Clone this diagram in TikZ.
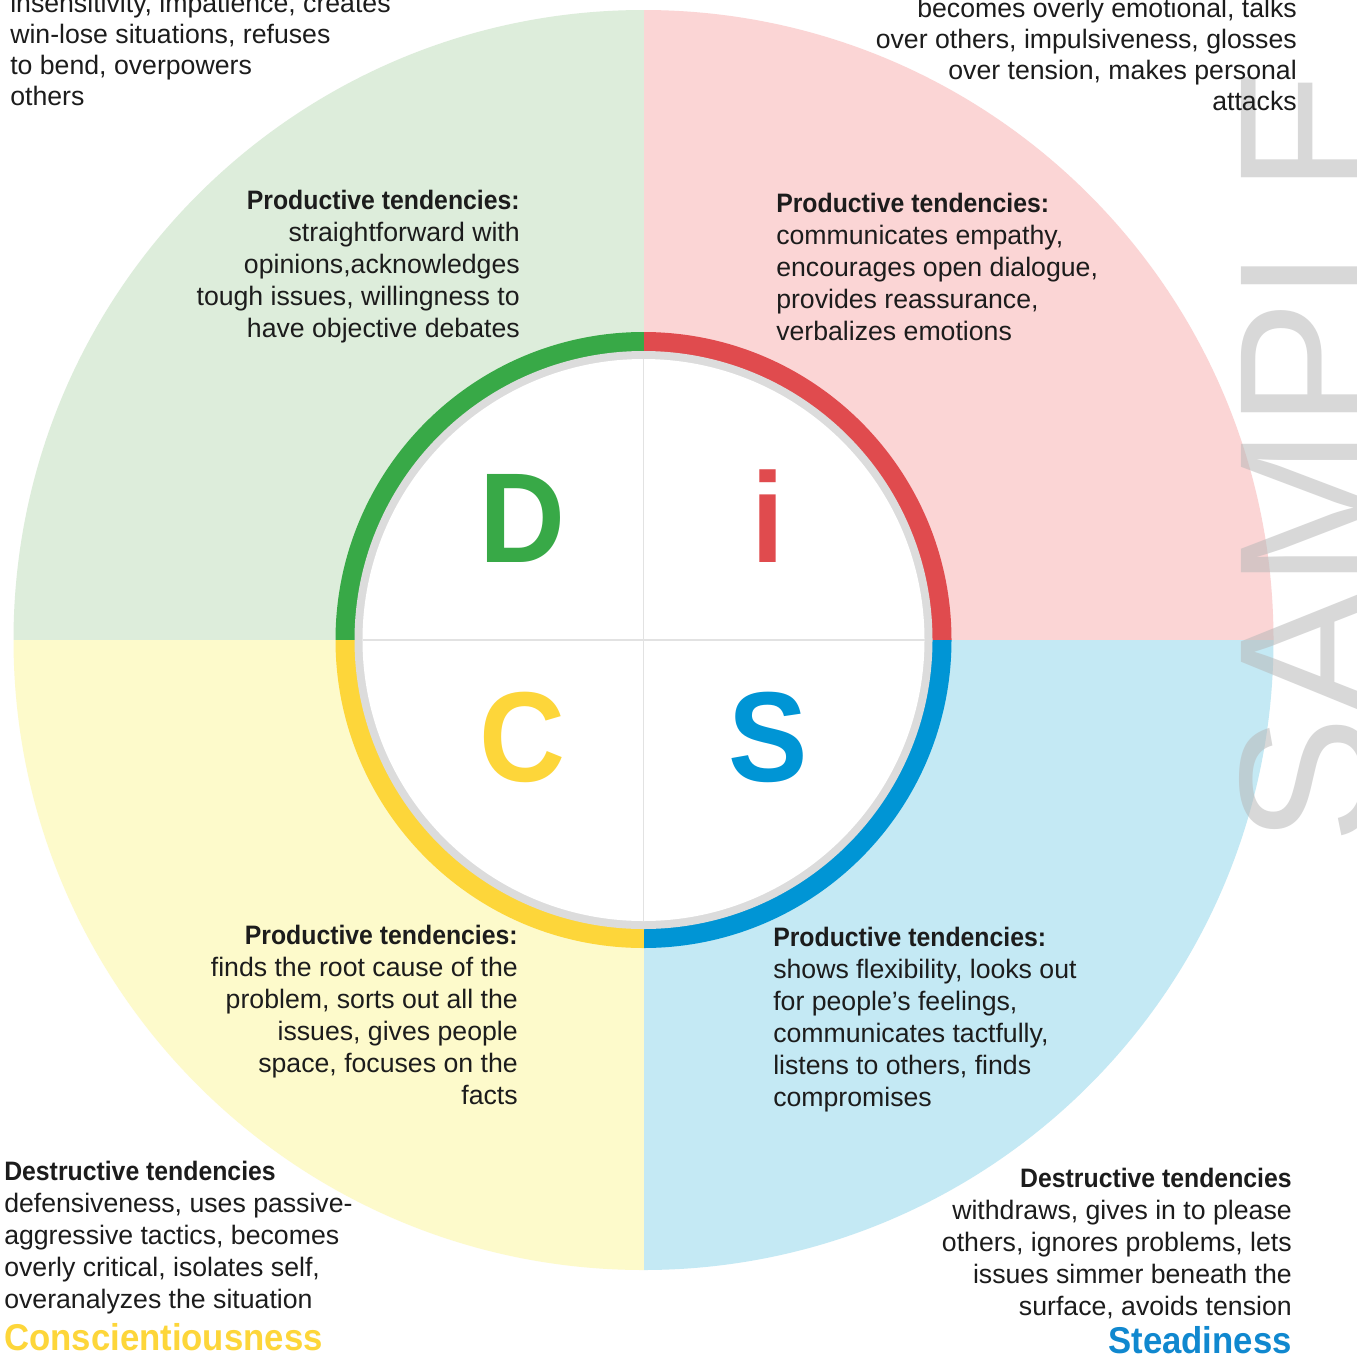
\documentclass[tikz,border=0pt]{standalone}
\usepackage{fontspec}
\setmainfont{Liberation Sans}[BoldFeatures={FakeStretch=0.93}]
\definecolor{bgD}{HTML}{DDEDDB}
\definecolor{bgI}{HTML}{FBD5D5}
\definecolor{bgC}{HTML}{FDFACB}
\definecolor{bgS}{HTML}{C4E9F4}
\definecolor{rD}{HTML}{38A947}
\definecolor{rI}{HTML}{E04B4E}
\definecolor{rC}{HTML}{FDD63A}
\definecolor{rS}{HTML}{0095D5}
\definecolor{ringgray}{HTML}{DCDCDC}
\definecolor{crossc}{HTML}{E2E2E2}
\definecolor{txtc}{HTML}{1C1C1C}
\definecolor{titS}{HTML}{1088CF}
\definecolor{wm}{HTML}{B8B8B8}
\begin{document}
\begin{tikzpicture}[x=0.75pt,y=-0.75pt,
  txt/.style={inner sep=0pt, font=\fontsize{20}{24}\selectfont, text=txtc},
  txttop/.style={inner sep=0pt, font=\fontsize{20}{23.25}\selectfont, text=txtc},
  rtxt/.style={align=right, anchor=north east},
  ltxt/.style={align=left, anchor=north west},
  bigletter/.style={inner sep=0pt, font=\fontsize{96}{96}\selectfont\bfseries, anchor=base},
  titletxt/.style={inner sep=0pt, font=\fontsize{28}{30}\selectfont\bfseries},
  crossline/.style={draw=crossc, line width=1.2pt}]
\useasboundingbox (0,0) rectangle (1357,1357);
\fill[white] (0,0) rectangle (1357,1357);
\coordinate (O) at (643.5,640);
% outer quadrants
\begin{scope}
  \clip (O) circle[radius=630];
  \fill[bgD] (0,0) rectangle (O);
  \fill[bgI] (1357,0) rectangle (O);
  \fill[bgC] (0,1357) rectangle (O);
  \fill[bgS] (1357,1357) rectangle (O);
\end{scope}
% coloured ring
\begin{scope}
  \clip (O) circle[radius=308];
  \fill[rD] (0,0) rectangle (O);
  \fill[rI] (1357,0) rectangle (O);
  \fill[rC] (0,1357) rectangle (O);
  \fill[rS] (1357,1357) rectangle (O);
\end{scope}
\fill[ringgray] (O) circle[radius=289];
\fill[white] (O) circle[radius=281];
\coordinate (cl) at (362.5,640);
\coordinate (cr) at (924.5,640);
\coordinate (ct) at (643.5,359);
\coordinate (cb) at (643.5,921);
\draw[crossline] (cl) -- (cr);
\draw[crossline] (ct) -- (cb);
% watermark
\node[inner sep=0pt, rotate=90, anchor=base west, text=wm, opacity=0.55,
      font=\fontsize{144}{144}\selectfont] (wmark) at (1373,845) {SAMPLE};
% big letters
\node[bigletter, text=rD] (LD) at (522,562) {D};
\node[bigletter, text=rI] (LI) at (768,562) {i};
\node[bigletter, text=rC] (LC) at (522,781) {C};
\node[bigletter, text=rS] (LS) at (768,781) {S};
% destructive top
\node[txttop, ltxt] (dD) at (10,-7) {insensitivity, impatience, creates\\win-lose situations, refuses\\to bend, overpowers\\others};
\node[txttop, rtxt] (dI) at (1297,-2) {becomes overly emotional, talks\\over others, impulsiveness, glosses\\over tension, makes personal\\attacks};
% productive
\node[txt, rtxt] (pD) at (520,190) {\textbf{Productive tendencies:}\\straightforward with\\opinions,acknowledges\\tough issues, willingness to\\have objective debates};
\node[txt, ltxt] (pI) at (776,193) {\textbf{Productive tendencies:}\\communicates empathy,\\encourages open dialogue,\\provides reassurance,\\verbalizes emotions};
\node[txt, rtxt] (pC) at (518,925) {\textbf{Productive tendencies:}\\finds the root cause of the\\problem, sorts out all the\\issues, gives people\\space, focuses on the\\facts};
\node[txt, ltxt] (pS) at (773,927) {\textbf{Productive tendencies:}\\shows flexibility, looks out\\for people’s feelings,\\communicates tactfully,\\listens to others, finds\\compromises};
% destructive bottom
\node[txt, ltxt] (dC) at (4,1161) {\textbf{Destructive tendencies}\\defensiveness, uses passive-\\aggressive tactics, becomes\\overly critical, isolates self,\\overanalyzes the situation};
\node[txt, rtxt] (dS) at (1292,1168) {\textbf{Destructive tendencies}\\withdraws, gives in to please\\others, ignores problems, lets\\issues simmer beneath the\\surface, avoids tension};
% titles
\node[titletxt, text=rC, anchor=base west] (tC) at (4,1350) {Conscientiousness};
\node[titletxt, text=titS, anchor=base east] (tS) at (1292,1353) {Steadiness};
\end{tikzpicture}
\end{document}
